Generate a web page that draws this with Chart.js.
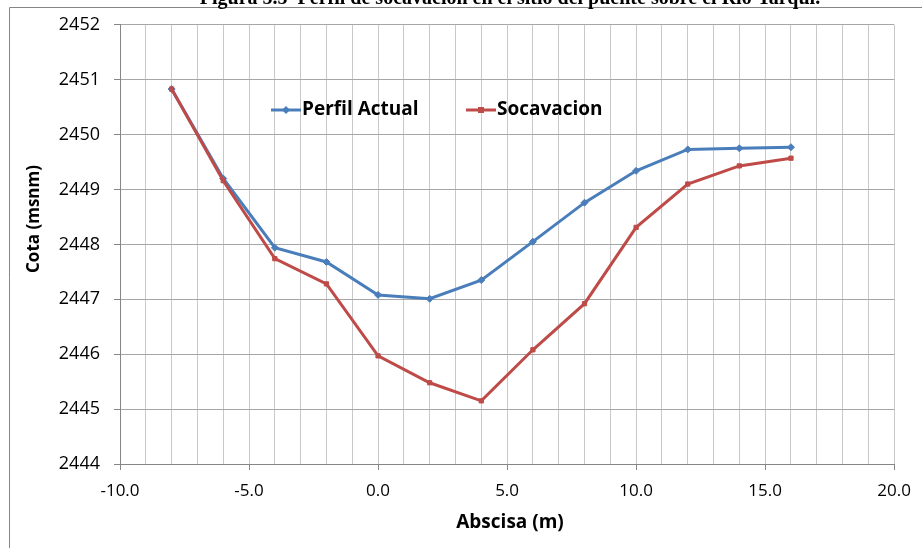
<!DOCTYPE html>
<html>
<head>
<meta charset="utf-8">
<script src="https://cdn.jsdelivr.net/npm/chart.js@4/dist/chart.umd.min.js"></script>
<style>
  html, body { margin: 0; padding: 0; background: #fff; }
  #wrap { width: 922px; height: 548px; }
</style>
</head>
<body>
<div id="wrap"><canvas id="c" width="922" height="548"></canvas></div>
<script>
// Abscisa (m) of each surveyed station
const abscisa = [-8, -6, -4, -2, 0, 2, 4, 6, 8, 10, 12, 14, 16];
// Cota (msnm) of the current riverbed profile
const perfilActual = [2450.83, 2449.20, 2447.94, 2447.68, 2447.08, 2447.01, 2447.35, 2448.05, 2448.76, 2449.34, 2449.73, 2449.75, 2449.77];
// Cota (msnm) after scour
const socavacion = [2450.83, 2449.16, 2447.74, 2447.28, 2445.97, 2445.48, 2445.15, 2446.08, 2446.92, 2448.31, 2449.10, 2449.43, 2449.57];

const seriesNames = ['Perfil Actual', 'Socavacion'];
const chartTitle = 'Figura 5.5  Perfil de socavación en el sitio del puente sobre el Río Yarqui.';
const xTitle = 'Abscisa (m)';
const yTitle = 'Cota (msnm)';

const BLUE = '#4A7EBB';
const RED = '#BE4B48';
const AXIS = '#868686';

const toPoints = ys => abscisa.map((x, i) => ({ x: x, y: ys[i] }));

// Page frame, caption, axis titles and the in-plot legend
const decorations = {
  id: 'decorations',
  beforeDraw(chart) {
    const ctx = chart.ctx;
    ctx.save();
    ctx.fillStyle = '#fff';
    ctx.fillRect(0, 0, chart.width, chart.height);
    ctx.strokeStyle = AXIS;
    ctx.lineWidth = 1;
    ctx.beginPath();
    ctx.moveTo(9.5, chart.height);
    ctx.lineTo(9.5, 7.5);
    ctx.lineTo(chart.width, 7.5);
    ctx.stroke();
    ctx.fillStyle = '#000';
    ctx.font = 'bold 20px "Liberation Serif", "DejaVu Serif", serif';
    ctx.textAlign = 'center';
    ctx.textBaseline = 'alphabetic';
    ctx.fillText(chartTitle, 510, 4);
    ctx.restore();
  },
  afterDraw(chart) {
    const ctx = chart.ctx;
    ctx.save();
    ctx.fillStyle = '#000';
    ctx.textAlign = 'center';
    ctx.textBaseline = 'middle';
    ctx.font = 'bold 19px "Open Sans", sans-serif';
    ctx.fillText(xTitle, 510, 523);
    ctx.font = 'bold 17px "Open Sans", sans-serif';
    ctx.translate(34, 219);
    ctx.rotate(-Math.PI / 2);
    ctx.fillText(yTitle, 0, 0);
    ctx.restore();

    // legend entries: line sample with marker, then label
    const entries = [
      { label: seriesNames[0], color: BLUE, x: 271, shape: 'diamond' },
      { label: seriesNames[1], color: RED, x: 466, shape: 'square' }
    ];
    const ly = 110;
    ctx.save();
    entries.forEach(e => {
      ctx.strokeStyle = e.color;
      ctx.lineWidth = 3;
      ctx.beginPath();
      ctx.moveTo(e.x, ly);
      ctx.lineTo(e.x + 30, ly);
      ctx.stroke();
      ctx.fillStyle = e.color;
      const cx = e.x + 15;
      if (e.shape === 'diamond') {
        ctx.beginPath();
        ctx.moveTo(cx, ly - 4);
        ctx.lineTo(cx + 4, ly);
        ctx.lineTo(cx, ly + 4);
        ctx.lineTo(cx - 4, ly);
        ctx.closePath();
        ctx.fill();
      } else {
        ctx.fillRect(cx - 3, ly - 3, 6, 6);
      }
      ctx.fillStyle = '#000';
      ctx.font = 'bold 19px "Open Sans", sans-serif';
      ctx.textAlign = 'left';
      ctx.textBaseline = 'middle';
      ctx.fillText(e.label, e.x + 31, ly);
    });
    ctx.restore();
  }
};

new Chart(document.getElementById('c'), {
  type: 'scatter',
  data: {
    datasets: [
      {
        label: seriesNames[0],
        data: toPoints(perfilActual),
        showLine: true,
        borderColor: BLUE,
        backgroundColor: BLUE,
        borderWidth: 3,
        pointStyle: 'rectRot',
        pointRadius: 3.5,
        pointBorderWidth: 1,
        order: 2
      },
      {
        label: seriesNames[1],
        data: toPoints(socavacion),
        showLine: true,
        borderColor: RED,
        backgroundColor: RED,
        borderWidth: 3,
        pointStyle: 'rect',
        pointRadius: 3,
        pointBorderWidth: 1,
        order: 1
      }
    ]
  },
  options: {
    responsive: false,
    animation: false,
    layout: { padding: { top: 23, right: 26, left: 0, bottom: 0 } },
    plugins: {
      legend: { display: false },
      tooltip: { enabled: false },
      title: { display: false }
    },
    scales: {
      x: {
        type: 'linear',
        min: -10,
        max: 20,
        afterFit(scale) { scale.height = 84; },
        ticks: {
          stepSize: 1,
          autoSkip: false,
          maxRotation: 0,
          padding: 11,
          color: '#000',
          font: { family: '"Open Sans", sans-serif', size: 17 },
          callback: v => (v % 5 === 0 ? v.toFixed(1) : '')
        },
        grid: {
          color: '#C8C8C8',
          tickLength: 6,
          tickColor: c => (c.tick && c.tick.value % 5 === 0 ? AXIS : 'rgba(0,0,0,0)')
        },
        border: { color: AXIS, width: 1 }
      },
      y: {
        type: 'linear',
        min: 2444,
        max: 2452,
        afterFit(scale) { scale.width = 120; },
        ticks: {
          stepSize: 1,
          padding: 14,
          color: '#000',
          font: { family: '"Open Sans", sans-serif', size: 18 },
          callback: v => String(v)
        },
        grid: {
          color: '#A6A6A6',
          tickLength: 6,
          tickColor: AXIS
        },
        border: { color: AXIS, width: 1 }
      }
    }
  },
  plugins: [decorations]
});
</script>
</body>
</html>
